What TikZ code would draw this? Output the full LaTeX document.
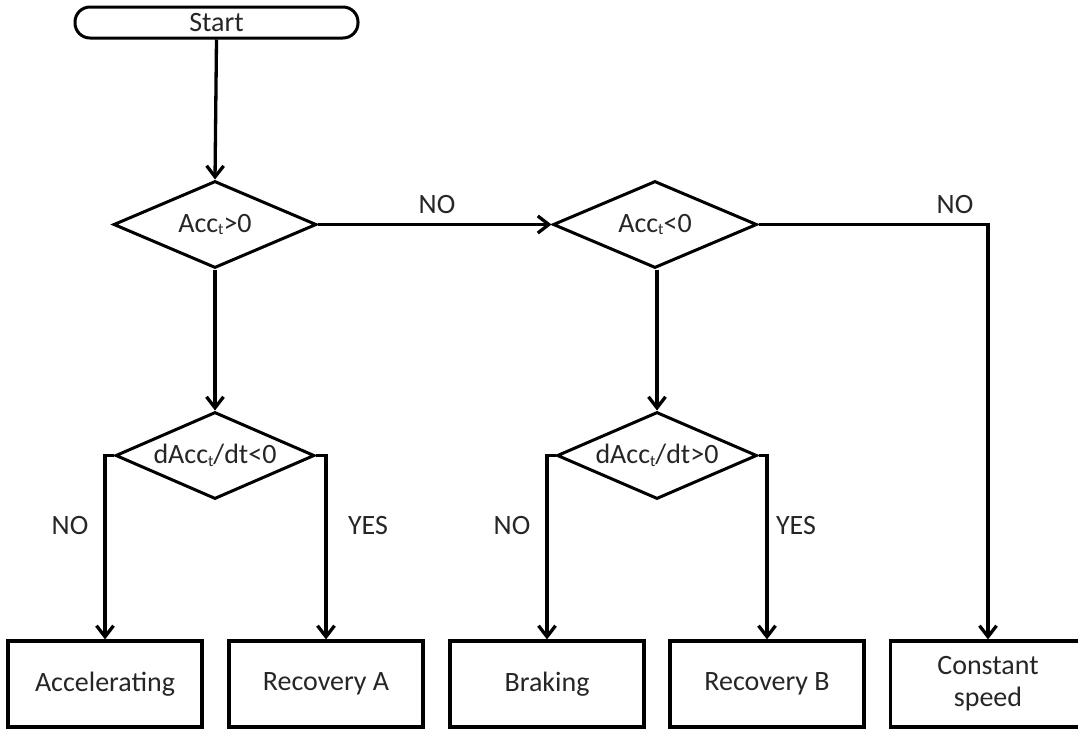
\documentclass[tikz,border=0pt]{standalone}
\usepackage{fontspec}
\setmainfont{Carlito}
\usetikzlibrary{shapes.geometric,arrows.meta}
\newcommand{\subt}{\raisebox{-2.5pt}{\fontsize{16}{16}\selectfont t}}
\tikzset{
  txt/.style={font=\fontsize{28}{32}\selectfont, text=black!85},
  boxnode/.style={draw, line width=3.2pt, minimum width=194pt, minimum height=86pt, inner sep=0pt, align=center, txt},
  decision/.style={draw, diamond, line width=3pt, inner sep=0pt},
  startnode/.style={draw, line width=3pt, rounded corners=15pt, minimum width=283pt, minimum height=31pt, inner sep=0pt, txt},
  conn/.style={line width=3.3pt, -{Straight Barb[length=11pt,width=17pt]}},
  lbl/.style={txt, inner sep=0pt}
}
\begin{document}
\begin{tikzpicture}[x=1pt,y=-1pt]
\useasboundingbox (0,0) rectangle (1078,729);
\clip (0,0) rectangle (1078,729);
\node[startnode] (start) at (216.5,22.5) {Start};
\node[decision, minimum width=203pt, minimum height=87pt, label={[txt]center:Acc\subt>0}] (d1) at (215,224.5) {};
\node[decision, minimum width=204pt, minimum height=87pt, label={[txt]center:Acc\subt<0}] (d2) at (655,224.5) {};
\node[decision, minimum width=199pt, minimum height=87pt, label={[txt]center:dAcc\subt/dt<0}] (d3) at (215,455.5) {};
\node[decision, minimum width=200pt, minimum height=87pt, label={[txt]center:dAcc\subt/dt>0}] (d4) at (657,455.5) {};
\node[boxnode] (acc) at (105,684) {Accelerating};
\node[boxnode] (ra) at (326,684) {Recovery A};
\node[boxnode] (br) at (547,684) {Braking};
\node[boxnode] (rb) at (767,684) {Recovery B};
\node[boxnode, minimum width=195pt] (cs) at (988,684) {Constant\\speed};
\draw[conn] (start.south) -- (d1.north);
\draw[conn] (d1.east) -- (d2.west);
\draw[conn] (d2.east) -| (cs.north);
\draw[conn] (d1.south) -- (d3.north);
\draw[conn] (d2.south -| d4.north) -- (d4.north);
\draw[conn] (d3.west) -| (acc.north);
\draw[conn] (d3.east) -| (ra.north);
\draw[conn] (d4.west) -| (br.north);
\draw[conn] (d4.east) -| (rb.north);
\node[lbl] (n1) at (437,205) {NO};
\node[lbl] (n2) at (955,205) {NO};
\node[lbl] (n3) at (70,525) {NO};
\node[lbl] (y1) at (368,525) {YES};
\node[lbl] (n4) at (512,525) {NO};
\node[lbl] (y2) at (796,525) {YES};
\end{tikzpicture}
\end{document}
